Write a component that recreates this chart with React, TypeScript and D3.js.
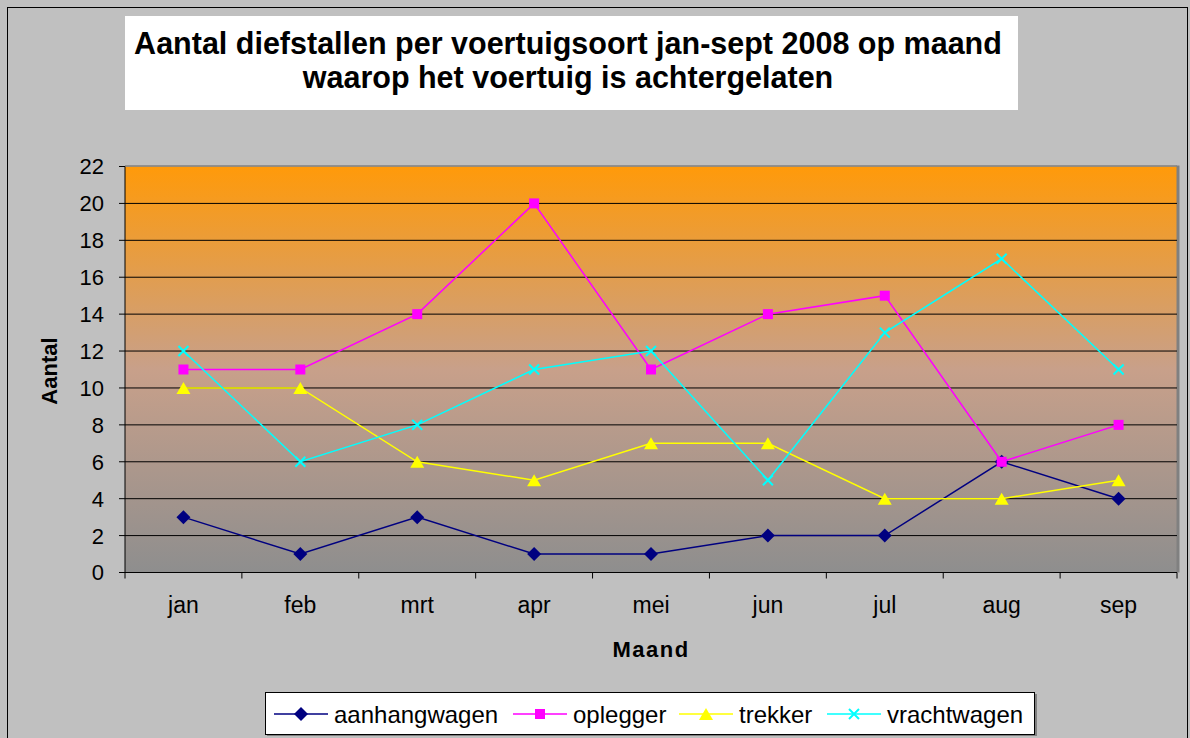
import React from "react";
import * as d3 from "d3";

const months = ["jan", "feb", "mrt", "apr", "mei", "jun", "jul", "aug", "sep"];
const aanhangwagen = [3, 1, 3, 1, 1, 2, 2, 6, 4];
const oplegger = [11, 11, 14, 20, 11, 14, 15, 6, 8];
const trekker = [10, 10, 6, 5, 7, 7, 4, 4, 5];
const vrachtwagen = [12, 6, 8, 11, 12, 5, 13, 17, 11];
const yTicks = [0, 2, 4, 6, 8, 10, 12, 14, 16, 18, 20, 22];
const seriesNames = ["aanhangwagen", "oplegger", "trekker", "vrachtwagen"];
const seriesColors = ["#000080", "#ff00ff", "#ffff00", "#00ffff"];
const seriesMarkers = ["diamond", "square", "triangle", "cross"];

const W = 1190, H = 738;
const plot = { left: 125, top: 166.5, right: 1177, bottom: 572.5 };
const FONT = "'Liberation Sans', Arial, Helvetica, sans-serif";

function Marker({ type, x, y, color }: { type: string; x: number; y: number; color: string }) {
  if (type === "diamond") {
    const s = 7;
    return <path d={`M${x},${y - s}L${x + s},${y}L${x},${y + s}L${x - s},${y}Z`} fill={color} />;
  }
  if (type === "square") {
    return <rect x={x - 5} y={y - 5} width={10} height={10} fill={color} />;
  }
  if (type === "triangle") {
    return <path d={`M${x},${y - 6}L${x + 7},${y + 6}L${x - 7},${y + 6}Z`} fill={color} />;
  }
  const s = 5;
  return (
    <path d={`M${x - s},${y - s}L${x + s},${y + s}M${x - s},${y + s}L${x + s},${y - s}`} stroke={color} strokeWidth={2} fill="none" />
  );
}

export default function App() {
  const x = d3.scaleBand<string>().domain(months).range([plot.left, plot.right]);
  const y = d3.scaleLinear().domain([0, 22]).range([plot.bottom, plot.top]);
  const allSeries = [aanhangwagen, oplegger, trekker, vrachtwagen];
  const line = d3
    .line<number>()
    .x((_, i) => (x(months[i]) as number) + x.bandwidth() / 2)
    .y((d) => y(d));

  const legendX = [274, 513, 679, 827];

  return (
    <svg width={W} height={H} style={{ position: "absolute", left: 0, top: 0 }} fontFamily={FONT}>
      <defs>
        <linearGradient id="bg" x1="0" y1="0" x2="0" y2="1">
          <stop offset="0" stopColor="#ff9a0a" />
          <stop offset="0.5" stopColor="#c8a08a" />
          <stop offset="1" stopColor="#8e8e8e" />
        </linearGradient>
      </defs>
      <rect x={0} y={0} width={W} height={H} fill="#c0c0c0" />
      <rect x={7.5} y={7.5} width={1180} height={H} fill="none" stroke="#000" strokeWidth={1} />
      {/* title */}
      <rect x={125} y={16} width={893} height={94} fill="#fff" />
      <text x={568} y={54} textAnchor="middle" fontSize={30.5} fontWeight="bold" fill="#000">
        Aantal diefstallen per voertuigsoort jan-sept 2008 op maand
      </text>
      <text x={568} y={88} textAnchor="middle" fontSize={30.5} fontWeight="bold" fill="#000">
        waarop het voertuig is achtergelaten
      </text>
      {/* plot area */}
      <rect x={plot.left} y={plot.top} width={plot.right - plot.left} height={plot.bottom - plot.top} fill="url(#bg)" />
      <line x1={plot.left} x2={plot.right} y1={plot.top - 0.5} y2={plot.top - 0.5} stroke="#808080" strokeWidth={1.5} />
      <line x1={plot.right + 1} x2={plot.right + 1} y1={plot.top - 1} y2={plot.bottom} stroke="#808080" strokeWidth={3} />
      {yTicks.filter((t) => t > 0 && t < 22).map((t) => (
        <line key={t} x1={plot.left} x2={plot.right} y1={y(t)} y2={y(t)} stroke="#000" strokeWidth={1} />
      ))}
      {/* y axis */}
      <line x1={plot.left} x2={plot.left} y1={plot.top} y2={plot.bottom + 6} stroke="#000" strokeWidth={1} />
      {yTicks.map((t) => (
        <g key={t}>
          <line x1={plot.left - 6} x2={plot.left} y1={y(t)} y2={y(t)} stroke="#000" />
          <text x={104} y={y(t)} dy="0.36em" textAnchor="end" fontSize={22} fill="#000">
            {t}
          </text>
        </g>
      ))}
      {/* x axis */}
      <line x1={plot.left} x2={plot.right} y1={plot.bottom} y2={plot.bottom} stroke="#000" strokeWidth={1} />
      {months.map((m) => (
        <g key={m}>
          <line x1={(x(m) as number) + x.bandwidth()} x2={(x(m) as number) + x.bandwidth()} y1={plot.bottom} y2={plot.bottom + 6} stroke="#000" />
          <text x={(x(m) as number) + x.bandwidth() / 2} y={613} textAnchor="middle" fontSize={23} fill="#000">
            {m}
          </text>
        </g>
      ))}
      <text x={651} y={657} textAnchor="middle" fontSize={22} fontWeight="bold" letterSpacing={1.5} fill="#000">
        Maand
      </text>
      <text transform={`translate(57,371) rotate(-90)`} textAnchor="middle" fontSize={22} fontWeight="bold" fill="#000">
        Aantal
      </text>
      {/* series */}
      {allSeries.map((s, si) => (
        <g key={si}>
          <path d={line(s) as string} fill="none" stroke={seriesColors[si]} strokeWidth={1.5} />
          {s.map((v, i) => (
            <Marker key={i} type={seriesMarkers[si]} x={(x(months[i]) as number) + x.bandwidth() / 2} y={y(v)} color={seriesColors[si]} />
          ))}
        </g>
      ))}
      {/* legend */}
      <rect x={267} y={694} width={770} height={42} fill="#808080" />
      <rect x={265.5} y={692.5} width={769} height={42} fill="#fff" stroke="#000" strokeWidth={1} />
      {seriesNames.map((name, i) => (
        <g key={name}>
          <line x1={legendX[i]} x2={legendX[i] + 54} y1={714} y2={714} stroke={seriesColors[i]} strokeWidth={1.5} />
          <Marker type={seriesMarkers[i]} x={legendX[i] + 27} y={714} color={seriesColors[i]} />
          <text x={legendX[i] + 60} y={714} dy="0.36em" fontSize={24} fill="#000">
            {name}
          </text>
        </g>
      ))}
    </svg>
  );
}
